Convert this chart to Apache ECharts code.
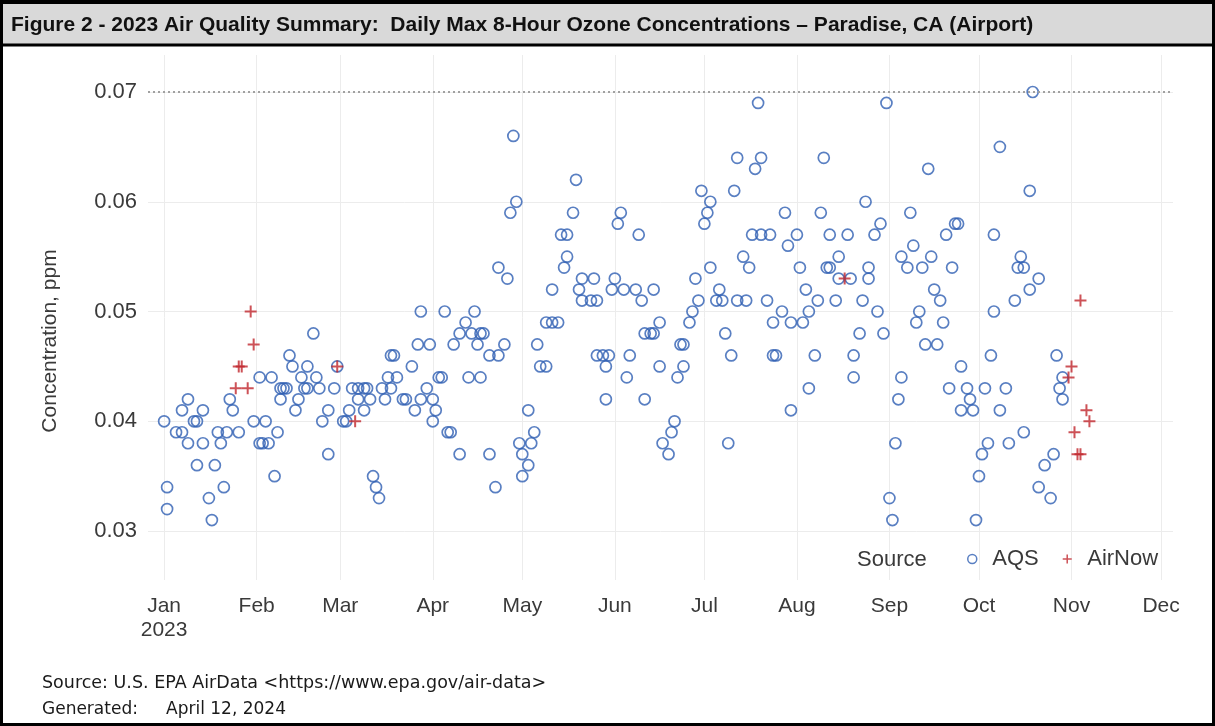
<!DOCTYPE html>
<html>
<head>
<meta charset="utf-8">
<title>Paradise, CA (Airport) - Daily Max 8-Hour Ozone 2023</title>
<script src="https://cdn.jsdelivr.net/npm/echarts@6.0.0/dist/echarts.min.js"></script>
<style>
  html, body { margin: 0; padding: 0; background: #fff; }
  #main { width: 1215px; height: 726px; }
</style>
</head>
<body>
<div id="main"></div>
<script>
// x values are day of year 2023 (1 = Jan 1)
var monthStarts = [1, 32, 60, 91, 121, 152, 182, 213, 244, 274, 305, 335];
var monthNames = ['Jan', 'Feb', 'Mar', 'Apr', 'May', 'Jun', 'Jul', 'Aug', 'Sep', 'Oct', 'Nov', 'Dec'];
var ppmTicks = [0.03, 0.04, 0.05, 0.06, 0.07];
var standardPpm = 0.07;

// AQS daily max 8-hour ozone, ppm
var aqsDay = [
  1, 2, 2, 5, 7, 7, 9, 9, 11, 12, 12, 14, 14, 16, 17, 18, 19, 20, 21, 22, 23, 24, 26, 31,
  33, 33, 34, 35, 36, 37, 38, 39, 40, 40, 41, 42, 43, 44, 45, 46, 47, 48, 49, 49, 51, 52, 53, 54, 56, 56, 58, 59,
  61, 62, 63, 64, 66, 66, 68, 68, 69, 70, 71, 72, 73, 74, 75, 76, 77, 77, 78, 79, 81, 82, 84, 85, 86, 87, 87, 89, 90,
  91, 91, 92, 93, 94, 95, 96, 97, 98, 100, 100, 102, 103, 104, 105, 106, 107, 107, 108, 110, 110, 112, 113, 113,
  115, 116, 117, 118, 119, 120,
  121, 121, 123, 123, 124, 125, 126, 127, 129, 129, 131, 131, 133, 134, 135, 136, 136, 138, 139, 140, 141, 141,
  144, 145, 146, 146, 148, 149, 149, 150, 151,
  152, 153, 154, 155, 156, 157, 159, 160, 161, 162, 162, 164, 165, 165, 167, 167, 168, 170, 171, 172, 173, 174,
  175, 175, 177, 178, 179, 180, 181,
  182, 183, 184, 184, 186, 187, 188, 189, 190, 191, 192, 193, 193, 195, 196, 197, 198, 199, 200, 201, 201, 203,
  204, 205, 205, 206, 208, 209, 210, 211, 211,
  213, 214, 215, 216, 217, 217, 219, 220, 221, 222, 223, 224, 224, 226, 227, 227, 230, 231, 232, 232, 234, 235,
  236, 237, 237, 239, 240, 241, 242, 243,
  244, 245, 246, 247, 248, 248, 250, 251, 252, 253, 254, 255, 256, 257, 258, 259, 260, 261, 262, 263, 264, 265,
  266, 267, 268, 268, 270, 271, 272, 273,
  274, 275, 276, 277, 278, 279, 279, 281, 281, 283, 284, 286, 287, 288, 289, 289, 291, 291, 292, 294, 294, 296,
  298, 299, 300, 301, 302, 302
];
var aqsPpm = [
  0.040, 0.034, 0.032, 0.039, 0.039, 0.041, 0.038, 0.042, 0.040, 0.040, 0.036, 0.041, 0.038, 0.033, 0.031, 0.036,
  0.039, 0.038, 0.034, 0.039, 0.042, 0.041, 0.039, 0.040,
  0.044, 0.038, 0.038, 0.040, 0.038, 0.044, 0.035, 0.039, 0.043, 0.042, 0.043, 0.043, 0.046, 0.045, 0.041, 0.042,
  0.044, 0.043, 0.043, 0.045, 0.048, 0.044, 0.043, 0.040, 0.041, 0.037, 0.043, 0.045,
  0.040, 0.040, 0.041, 0.043, 0.043, 0.042, 0.043, 0.041, 0.043, 0.042, 0.035, 0.034, 0.033, 0.043, 0.042, 0.044,
  0.043, 0.046, 0.046, 0.044, 0.042, 0.042, 0.045, 0.041, 0.047, 0.042, 0.050, 0.043, 0.047,
  0.042, 0.040, 0.041, 0.044, 0.044, 0.050, 0.039, 0.039, 0.047, 0.048, 0.037, 0.049, 0.044, 0.048, 0.050, 0.047,
  0.044, 0.048, 0.048, 0.046, 0.037, 0.034, 0.046, 0.054,
  0.047, 0.053, 0.059, 0.066, 0.060, 0.038,
  0.037, 0.035, 0.041, 0.036, 0.038, 0.039, 0.047, 0.045, 0.049, 0.045, 0.049, 0.052, 0.049, 0.057, 0.054, 0.057,
  0.055, 0.059, 0.062, 0.052, 0.051, 0.053,
  0.051, 0.053, 0.051, 0.046, 0.046, 0.042, 0.045, 0.046, 0.052,
  0.053, 0.058, 0.059, 0.052, 0.044, 0.046, 0.052, 0.057, 0.051, 0.048, 0.042, 0.048, 0.048, 0.052, 0.045, 0.049,
  0.038, 0.037, 0.039, 0.040, 0.044, 0.047,
  0.047, 0.045, 0.049, 0.050, 0.053, 0.051, 0.061,
  0.058, 0.059, 0.060, 0.054, 0.051, 0.052, 0.051, 0.048, 0.038, 0.046, 0.061, 0.064, 0.051, 0.055, 0.051, 0.054,
  0.057, 0.063, 0.069, 0.064, 0.057, 0.051,
  0.057, 0.049, 0.046, 0.046, 0.050, 0.059, 0.056, 0.041, 0.049,
  0.057, 0.054, 0.049, 0.052, 0.050, 0.043, 0.046, 0.051, 0.059, 0.064, 0.054, 0.054, 0.057, 0.051, 0.055, 0.053,
  0.057, 0.053, 0.044, 0.046, 0.048, 0.051,
  0.060, 0.053, 0.054, 0.057, 0.050, 0.058, 0.048, 0.069,
  0.033, 0.031, 0.038, 0.042, 0.044, 0.055, 0.054, 0.059, 0.056, 0.049, 0.050, 0.054, 0.047, 0.063, 0.055, 0.052,
  0.047, 0.051, 0.049, 0.057, 0.043, 0.054,
  0.058, 0.058, 0.045, 0.041, 0.043, 0.042, 0.041, 0.031,
  0.035, 0.037, 0.043, 0.038, 0.046, 0.050, 0.057, 0.065, 0.041, 0.043, 0.038, 0.051, 0.054, 0.055, 0.054, 0.039,
  0.052, 0.061, 0.070, 0.053, 0.034, 0.036,
  0.033, 0.037, 0.046, 0.043, 0.042, 0.044
];

// AirNow daily max 8-hour ozone, ppm
var airnowDay = [25, 26, 27, 29, 30, 31, 59, 65, 229, 304, 305, 306, 307, 308, 308, 310, 311];
var airnowPpm = [0.043, 0.045, 0.045, 0.043, 0.050, 0.047, 0.045, 0.040, 0.053, 0.044, 0.045, 0.039, 0.037,
  0.037, 0.051, 0.041, 0.040];

function pairs(xs, ys) {
  var out = [];
  for (var i = 0; i < xs.length; i++) {
    out.push([xs[i], ys[i]]);
  }
  return out;
}

var labelColor = '#3a3a3a';
var labelFont = 'Liberation Sans';
var aqsColor = '#2f5fb3';
var airnowColor = '#c0272d';
var plusPath = 'path://M5,0H7V5H12V7H7V12H5V7H0V5H5Z';

var chart = echarts.init(document.getElementById('main'));
chart.setOption({
  animation: false,
  backgroundColor: '#fff',
  grid: { left: 148, right: 42, top: 55, bottom: 146 },
  xAxis: {
    type: 'value',
    min: -4.4,
    max: 339,
    axisLine: { show: false },
    axisTick: { show: false, customValues: monthStarts },
    splitLine: { show: true, lineStyle: { color: '#ececec', width: 1 } },
    axisLabel: {
      customValues: monthStarts,
      margin: 14,
      fontSize: 21,
      lineHeight: 24,
      color: labelColor,
      fontFamily: labelFont,
      formatter: function (v) {
        var i = monthStarts.indexOf(v);
        return i === 0 ? 'Jan\n2023' : monthNames[i];
      }
    }
  },
  yAxis: {
    type: 'value',
    min: 0.02554,
    max: 0.07337,
    axisLine: { show: false },
    axisTick: { show: false, customValues: ppmTicks },
    splitLine: { show: true, lineStyle: { color: '#ececec', width: 1 } },
    axisLabel: {
      customValues: ppmTicks,
      margin: 11,
      fontSize: 22,
      color: labelColor,
      fontFamily: labelFont,
      formatter: function (v) { return v.toFixed(2); }
    }
  },
  legend: {
    left: 967,
    top: 548,
    padding: 0,
    itemWidth: 30,
    itemHeight: 9,
    itemGap: 24,
    selectedMode: false,
    textStyle: { fontSize: 22, color: labelColor, fontFamily: labelFont },
    data: [
      { name: 'AQS', icon: 'circle', itemStyle: { color: 'rgba(0,0,0,0)', borderColor: aqsColor, borderWidth: 1.5 } },
      { name: 'AirNow', icon: plusPath, itemStyle: { color: airnowColor, borderWidth: 0 } }
    ]
  },
  graphic: [
    { type: 'rect', shape: { x: 0, y: 0, width: 1215, height: 45 }, style: { fill: '#d9d9d9' }, z: 10 },
    { type: 'line', shape: { x1: 0, y1: 45, x2: 1215, y2: 45 }, style: { stroke: '#000', lineWidth: 3 }, z: 11 },
    { type: 'line', shape: { x1: 0, y1: 2, x2: 1215, y2: 2 }, style: { stroke: '#000', lineWidth: 4 }, z: 11 },
    { type: 'rect', shape: { x: 1.5, y: 1.5, width: 1212, height: 723 }, style: { fill: null, stroke: '#000', lineWidth: 3 }, z: 11 },
    {
      type: 'text', x: 11, y: 25, z: 12,
      style: {
        text: 'Figure 2 - 2023 Air Quality Summary:  Daily Max 8-Hour Ozone Concentrations \u2013 Paradise, CA (Airport)',
        fontSize: 21, fontWeight: 'bold', fontFamily: labelFont, fill: '#111',
        textAlign: 'left', textVerticalAlign: 'middle'
      }
    },
    {
      type: 'text', x: 50, y: 341, rotation: Math.PI / 2, z: 12,
      style: {
        text: 'Concentration, ppm', fontSize: 21, fontFamily: labelFont, fill: labelColor,
        textAlign: 'center', textVerticalAlign: 'middle'
      }
    },
    {
      type: 'text', x: 857, y: 560, z: 12,
      style: {
        text: 'Source', fontSize: 22, fontFamily: labelFont, fill: labelColor,
        textAlign: 'left', textVerticalAlign: 'middle'
      }
    },
    {
      type: 'text', x: 42, y: 683, z: 12,
      style: {
        text: 'Source: U.S. EPA AirData <https://www.epa.gov/air-data>', fontSize: 17.5, fontFamily: 'DejaVu Sans',
        fill: '#1a1a1a', textAlign: 'left', textVerticalAlign: 'middle'
      }
    },
    {
      type: 'text', x: 42, y: 710, z: 12,
      style: {
        text: 'Generated:', fontSize: 17, fontFamily: 'DejaVu Sans', fill: '#1a1a1a',
        textAlign: 'left', textVerticalAlign: 'middle'
      }
    },
    {
      type: 'text', x: 166, y: 710, z: 12,
      style: {
        text: 'April 12, 2024', fontSize: 17, fontFamily: 'DejaVu Sans', fill: '#1a1a1a',
        textAlign: 'left', textVerticalAlign: 'middle'
      }
    }
  ],
  series: [
    {
      name: 'AQS',
      type: 'scatter',
      data: pairs(aqsDay, aqsPpm),
      symbol: 'circle',
      symbolSize: 11,
      itemStyle: { color: 'rgba(0,0,0,0)', borderColor: aqsColor, borderWidth: 1.7 },
      emphasis: { disabled: true },
      markLine: {
        silent: true,
        symbol: 'none',
        label: { show: false },
        lineStyle: { color: '#a0a0a0', type: [2, 3], width: 2 },
        data: [{ yAxis: standardPpm }]
      },
      z: 2
    },
    {
      name: 'AirNow',
      type: 'scatter',
      data: pairs(airnowDay, airnowPpm),
      symbol: plusPath,
      symbolSize: 12,
      itemStyle: { color: airnowColor },
      emphasis: { disabled: true },
      z: 3
    }
  ]
});
</script>
</body>
</html>
